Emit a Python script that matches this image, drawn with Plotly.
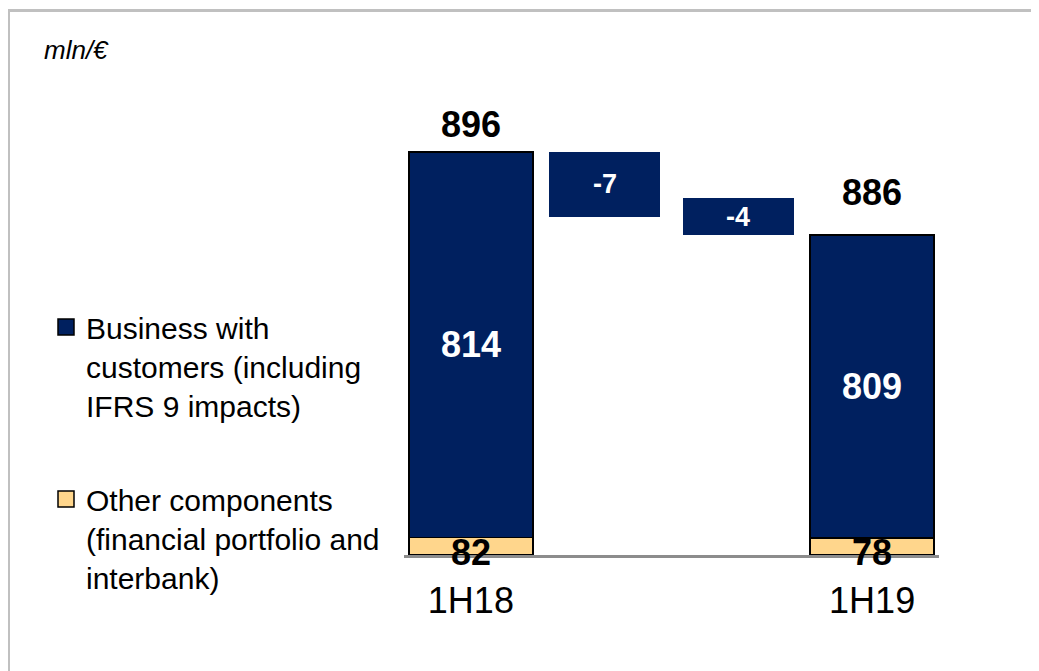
import plotly.graph_objects as go

# ---------------- data ----------------
period_labels = ["1H18", "1H19"]
business_customers = [814, 809]   # Business with customers (including IFRS 9 impacts)
other_components = [82, 78]       # Other components (financial portfolio and interbank)
totals = [896, 886]
delta_labels = ["-7", "-4"]
delta_values = [-7, -4]

series_names = [
    "Business with<br>customers (including<br>IFRS 9 impacts)",
    "Other components<br>(financial portfolio and<br>interbank)",
]

# ---------------- style ----------------
NAVY = "#00205F"
SAND = "#FFD68C"
FONT = "Liberation Sans, Arial, sans-serif"
W, H = 1039, 671
OX, OY = 8, 8   # page body margin


def px(p):  # pixel column -> paper fraction
    return (p - OX) / W


def py(p):  # pixel row -> paper fraction
    return 1 - (p - OY) / H


# positions on the category axis: total, delta, delta, total
x_tot = [0, 3]
x_delta = [1, 2]

# stacked heights of the two total bars
stack_top = [b + o for b, o in zip(business_customers, other_components)]
# floating bars: first hangs from the starting bar, last lands on the ending bar
delta_base = [stack_top[0], stack_top[1] - delta_values[1]]

# broken value axis: lower panel shows the base component, upper panel the top
low_dom = [py(555), py(537)]
up_dom = [py(537), py(100)]
up_range = [854.25, 901.64]

fig = go.Figure()

main_w = [0.93, 0.93]
line_main = dict(color="black", width=2)

for yax in ("y", "y2"):
    fig.add_trace(go.Bar(
        x=x_tot, y=other_components, yaxis=yax, width=main_w,
        marker=dict(color=SAND, line=line_main),
        showlegend=False, hoverinfo="skip",
    ))
    fig.add_trace(go.Bar(
        x=x_tot, y=business_customers, yaxis=yax, width=main_w,
        marker=dict(color=NAVY, line=line_main),
        showlegend=False, hoverinfo="skip",
    ))

fig.add_trace(go.Bar(
    x=x_delta, y=delta_values, base=delta_base, yaxis="y2", width=[0.83, 0.83],
    marker=dict(color=NAVY, line=dict(width=0)), showlegend=False, hoverinfo="skip",
))

# legend entries (square keys)
for name, col, grp, rank in ((series_names[0], NAVY, "a", 1), (series_names[1], SAND, "b", 2)):
    fig.add_trace(go.Scatter(
        x=[None], y=[None], mode="markers", name=name, legendgroup=grp, legendrank=rank,
        marker=dict(symbol="square", size=16, color=col, line=dict(color="black", width=1.5)),
    ))

ann = []
bold = dict(family=FONT, size=36, color="black")
tot_shift = [5, 20]
for xi, t, top, s in zip(x_tot, totals, stack_top, tot_shift):
    ann.append(dict(x=xi, y=top, xref="x", yref="y2", text="<b>%d</b>" % t,
                    showarrow=False, yanchor="bottom", yshift=s, font=bold))
for xi, b, top in zip(x_tot, business_customers, stack_top):
    ymid = (up_range[0] + top) / 2
    ann.append(dict(x=xi, y=ymid, xref="x", yref="y2", text="<b>%d</b>" % b,
                    showarrow=False, font=dict(family=FONT, size=36, color="white")))
for xi, o in zip(x_tot, other_components):
    ann.append(dict(x=xi, y=0, xref="x", yref="y", text="<b>%d</b>" % o,
                    showarrow=False, yanchor="middle", yshift=3, font=bold))
for xi, b, d, lab in zip(x_delta, delta_base, delta_values, delta_labels):
    ann.append(dict(x=xi, y=b + d / 2, xref="x", yref="y2", text="<b>%s</b>" % lab,
                    showarrow=False, font=dict(family=FONT, size=27, color="white")))
ann.append(dict(x=px(42), y=py(50), xref="paper", yref="paper", text="<i>mln/€</i>",
                showarrow=False, xanchor="left", yanchor="middle",
                font=dict(family=FONT, size=26, color="black")))

fig.update_layout(
    width=W, height=H,
    margin=dict(l=0, r=0, t=0, b=0),
    paper_bgcolor="white", plot_bgcolor="white",
    barmode="stack", bargap=0,
    font=dict(family=FONT, color="black"),
    xaxis=dict(domain=[px(404), px(939)], range=[-0.5, 3.5], anchor="y",
               tickvals=x_tot, ticktext=period_labels, ticks="",
               tickfont=dict(family=FONT, size=36, color="black"),
               ticklabelstandoff=12,
               showline=True, linecolor="#8C8C8C", linewidth=3,
               showgrid=False, zeroline=False, fixedrange=True),
    yaxis=dict(domain=low_dom, range=[0, 82], visible=False, fixedrange=True),
    yaxis2=dict(domain=up_dom, range=up_range, anchor="x", visible=False, fixedrange=True),
    legend=dict(x=px(46), y=py(301), xanchor="left", yanchor="top",
                traceorder="grouped", tracegroupgap=52, valign="top",
                font=dict(family=FONT, size=30, color="black"),
                bgcolor="rgba(0,0,0,0)", itemclick=False, itemdoubleclick=False),
    annotations=ann,
    shapes=[dict(type="path", xref="paper", yref="paper",
                 path="M %f,%f L %f,%f L %f,%f" % (px(8.5), -0.02, px(8.5), py(10.5), 1.02, py(10.5)),
                 line=dict(color="#C0C0C0", width=3))],
)

fig.write_html("out.html")
